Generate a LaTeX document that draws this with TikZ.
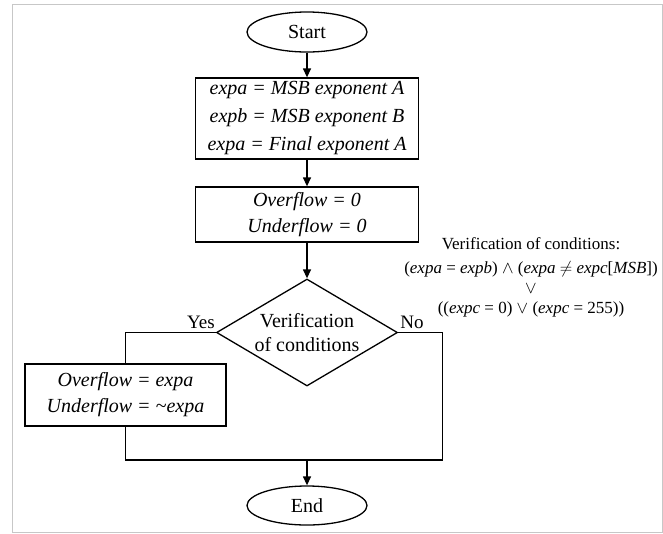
\documentclass[tikz,border=0pt]{standalone}
\usepackage{fontspec}
\setmainfont{Liberation Serif}
\usetikzlibrary{shapes.geometric}
\usetikzlibrary{arrows.meta}

\tikzset{
    terminal/.style = {draw, ellipse, line width=1.3pt, minimum width=120pt,
        minimum height=40pt, inner sep=0pt, font=\fontsize{20}{26}\selectfont},
    process/.style = {draw, rectangle, line width=1.3pt, minimum width=223pt,
        inner sep=0pt, align=center, font=\fontsize{20}{26}\selectfont\itshape},
    decision/.style = {draw, diamond, aspect=1.69, line width=1.3pt, inner sep=0pt,
        minimum width=181pt, minimum height=107pt, align=center,
        font=\fontsize{20}{24}\selectfont},
    flow/.style = {line width=1.3pt},
    flowarrow/.style = {flow, -{Triangle[length=9pt, width=8pt]}},
    branchlabel/.style = {inner sep=0pt, font=\fontsize{19}{22}\selectfont},
}

\begin{document}
\begin{tikzpicture}[x=1pt, y=-1pt]
    \useasboundingbox (0, 0) rectangle (663, 533);
    \draw [color=black!22, line width=1pt] (12.5, 4) rectangle (662, 532);

    % main column
    \node [terminal] (start) at (307, 32) {Start};
    \node [process, minimum height=81pt, font=\fontsize{20}{28}\selectfont\itshape]
        (init) at (307, 118.5)
        {expa = MSB exponent A\\ expb = MSB exponent B\\ expa = Final exponent A};
    \node [process, minimum height=55pt] (reset) at (307, 214.5)
        {Overflow = 0\\ Underflow = 0};
    \node [decision] (check) at (307, 332.5) {Verification\\ of conditions};
    \node [process, minimum width=201pt, minimum height=62pt] (flags) at (125.5, 395)
        {Overflow = expa\\ Underflow = \textasciitilde expa};
    \node [terminal, minimum height=39pt] (end) at (307, 505.5) {End};

    \node [branchlabel, anchor=base east] (yes) at ([xshift=-1pt, yshift=4pt]check.west) {Yes};
    \node [branchlabel, anchor=base west] (no) at ([xshift=2pt, yshift=4pt]check.east) {No};

    % condition note
    \node [font=\fontsize{17}{20}\selectfont, align=center] (cond) at (531, 277)
        {Verification of conditions:\\[4pt]
         (\textit{expa} = \textit{expb}) $\wedge$ (\textit{expa} $\neq$ \textit{expc}[\textit{MSB}])\\
         $\vee$\\
         ((\textit{expc} = 0) $\vee$ (\textit{expc} = 255))};

    \coordinate (join) at (307, 460);
    \coordinate (corner) at (442.5, 460);

    \draw [flowarrow] (start) -- (init);
    \draw [flowarrow] (init) -- (reset);
    \draw [flowarrow] (reset) -- (check);
    \draw [flow] (check.west) -| (flags.north);
    \draw [flow] (flags.south) |- (join) -- (corner) |- (check.east);
    \draw [flowarrow] (join) -- (end);
\end{tikzpicture}
\end{document}
